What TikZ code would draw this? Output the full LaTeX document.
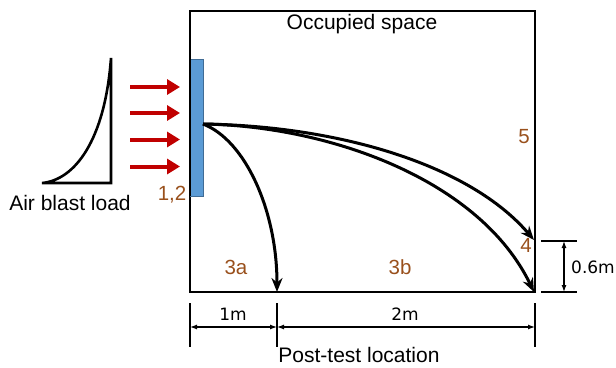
\documentclass[tikz,border=0pt]{standalone}
\usepackage{fontspec}
\setmainfont{Liberation Sans}
\newfontfamily\dimfont{DejaVu Sans}
\usetikzlibrary{arrows.meta}
\definecolor{numbrown}{RGB}{153,80,28}
\definecolor{loadred}{RGB}{192,0,0}
\definecolor{panelblue}{RGB}{91,155,213}
\tikzset{
  lbl/.style={font=\fontsize{21}{24}\selectfont},
  num/.style={font=\fontsize{20.5}{24}\selectfont,text=numbrown},
  dimlbl/.style={font=\dimfont\fontsize{17}{20}\selectfont},
  path/.style={line width=3pt,-{Stealth[length=14pt,width=11pt]}},
  blast/.style={line width=4pt,loadred,-{Triangle[length=13pt,width=15pt]}},
  dimline/.style={line width=1.2pt,{Latex[length=7pt,width=5pt]}-{Latex[length=7pt,width=5pt]}}
}
\begin{document}
\begin{tikzpicture}[x=1pt,y=-1pt]
	\useasboundingbox (0,0) rectangle (616,367);
	% occupied space
	\draw [line width=2.6pt] (190,11) rectangle (535,292);
	\path node (room) at (362,24) [lbl] {Occupied space}
		  node (post) at (359,355) [lbl] {Post-test location};
	% panel
	\draw [panelblue!70!black, fill=panelblue, line width=1pt] (190,59) rectangle (203,196);
	\draw [line width=1.4pt] (190,59) -- (190,196);
	% blast load
	\draw [line width=2.6pt] (42,183) .. controls (75,180) and (105,140) .. (111,58) -- (111,183) -- cycle;
	\path node (load) at (70,203) [lbl] {Air blast load};
	\foreach \y in {87,113,139.5,166.5}
		\draw [blast] (130,\y) -- (180,\y);
	% trajectories
	\coordinate (hinge) at (203,124);
	\coordinate (land3a) at (277,292);
	\coordinate (land4) at (534,240);
	\coordinate (land3b) at (534,292);
	\draw [path] (hinge) .. controls (245,140) and (277,210) .. (land3a);
	\draw [path] (hinge) .. controls (340,126) and (470,165) .. (land4);
	\draw [path] (hinge) .. controls (330,126) and (480,180) .. (land3b);
	\path node (n12) at (172,195) [num] {1,2}
		  node (n3a) at (236,267) [num] {3a}
		  node (n3b) at (400,267) [num] {3b}
		  node (n4) at (526,245) [num] {4}
		  node (n5) at (524,137) [num] {5};
	% dimensions
	\draw [line width=1.2pt] (541,241) -- (577,241);
	\draw [line width=1.2pt] (541,292) -- (577,292);
	\draw [dimline] (564,241) -- (564,292);
	\path node (h06) at (593,267) [dimlbl] {0.6m};
	\foreach \x in {190,277,535}
		\draw [line width=1.2pt] (\x,303) -- (\x,347);
	\draw [dimline] (190,327) -- (277,327);
	\draw [dimline] (277,327) -- (535,327);
	\path node (d1) at (233,314) [dimlbl] {1m}
		  node (d2) at (405,314) [dimlbl] {2m};
\end{tikzpicture}
\end{document}
